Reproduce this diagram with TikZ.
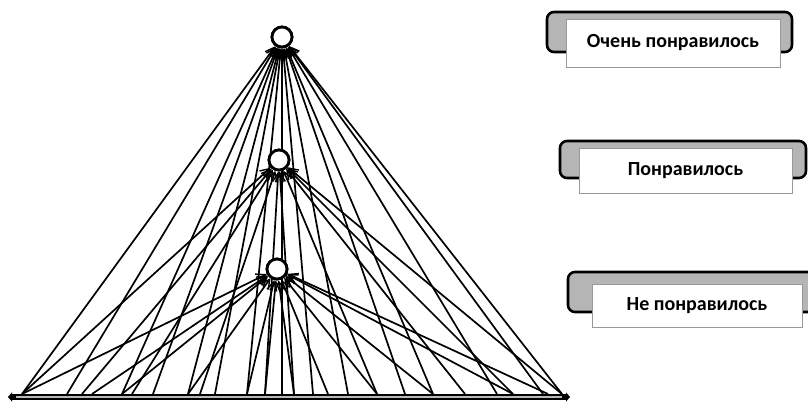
\documentclass[tikz,border=0pt]{standalone}
\usepackage{fontspec}
\setmainfont{Carlito}
\usetikzlibrary{arrows.meta}
\begin{document}
\begin{tikzpicture}[x=1pt,y=-1pt,
  ln/.style={line width=1.7pt, -{Straight Barb[length=9pt,width=10pt,line width=1.4pt]}},
  ball/.style={circle, draw, line width=2.8pt, fill=white, inner sep=0pt, minimum size=20pt},
  backbox/.style={draw=black, line width=2.6pt, fill=gray!95!black!55, rounded corners=7pt, inner sep=0pt},
  frontbox/.style={draw=gray!80, line width=0.8pt, fill=white, inner sep=0pt, font=\fontsize{20}{24}\selectfont\bfseries}
]
\useasboundingbox (0,0) rectangle (808,402);
% base
\coordinate (bl) at (8,397);
\coordinate (br) at (570,397);
\draw[line width=6pt, {Triangle[length=4pt,width=9pt]}-{Triangle[length=4pt,width=9pt]}] (bl) -- (br);
\draw[line width=1.1pt, gray!55] (16,397) -- (562,397);
% circles
\node[ball] (c1) at (282,37) {};
\node[ball] (c2) at (279,160) {};
\node[ball] (c3) at (277,269) {};
% base points
\foreach \x in {22,67,82,92,122,132,153,188,200,215,247,265,282,294,313,328,348,377,405,433,465,497,513,543,548,562}
  \coordinate (b\x) at (\x,394);
% lines to top circle
\foreach \x in {22,67,122,153,188,215,247,282,313,348,405,433,497,543,562}
  \draw[ln] (b\x) -- (c1);
% lines to middle circle
\foreach \x in {22,82,132,200,265,294,377,465,513,562}
  \draw[ln] (b\x) -- (c2);
% lines to bottom circle
\foreach \x in {22,92,122,188,247,265,294,328,377,433,513,548}
  \draw[ln] (b\x) -- (c3);
% redraw circles on top
\node[ball] at (c1) {};
\node[ball] at (c2) {};
\node[ball] at (c3) {};
% boxes
\node[backbox, minimum width=245pt, minimum height=40pt] (g1) at (669.5,32) {};
\node[frontbox, minimum width=214pt, minimum height=48pt] (w1) at (673,43) {Очень понравилось};
\node[backbox, minimum width=246pt, minimum height=37pt] (g2) at (683,159.5) {};
\node[frontbox, minimum width=213pt, minimum height=45pt] (w2) at (685.5,170.5) {Понравилось};
\node[backbox, minimum width=247pt, minimum height=40pt] (g3) at (691.5,292) {};
\node[frontbox, minimum width=210pt, minimum height=43pt] (w3) at (697,305.5) {Не понравилось};
\end{tikzpicture}
\end{document}
